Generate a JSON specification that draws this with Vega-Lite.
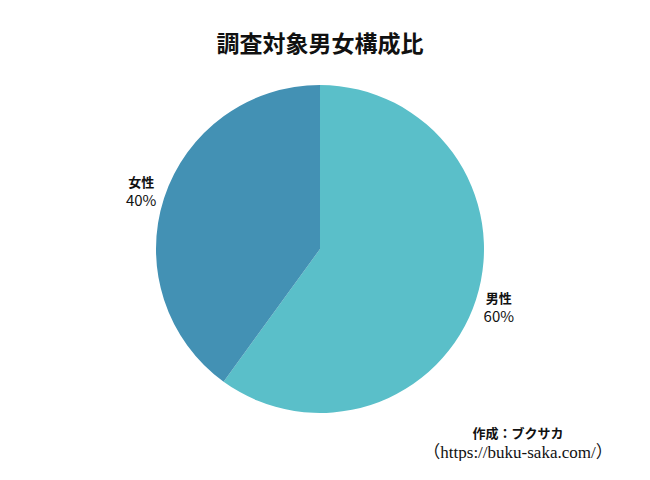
{
  "$schema": "https://vega.github.io/schema/vega-lite/v6.json",
  "background": "white",
  "padding": {"left": 0, "top": 34, "right": 10, "bottom": 0},
  "title": {"text": "調査対象男女構成比", "font": "Noto Sans CJK JP", "fontSize": 23, "fontWeight": "bold", "color": "#111111", "anchor": "middle", "offset": 22},
  "config": {"view": {"stroke": null}, "concat": {"spacing": 0}},
  "vconcat": [
    {
      "width": 640,
      "height": 340,
      "title": {
        "text": "作成：ブクサカ",
        "subtitle": "（https://buku-saka.com/）",
        "orient": "bottom",
        "anchor": "end",
        "align": "center",
        "dx": -122,
        "offset": 9,
        "font": "Noto Sans CJK JP",
        "fontSize": 13,
        "fontWeight": "bold",
        "color": "#111111",
        "subtitleFont": "Liberation Serif, Noto Sans CJK JP",
        "subtitleFontSize": 17,
        "subtitleColor": "#111111",
        "subtitlePadding": 4
      },
      "data": {"values": [
        {"性別": "男性", "割合": 0.6},
        {"性別": "女性", "割合": 0.4}
      ]},
      "encoding": {
        "theta": {"field": "割合", "type": "quantitative", "stack": true},
        "order": {"field": "割合", "type": "quantitative", "sort": "descending"}
      },
      "layer": [
        {
          "mark": {"type": "arc", "outerRadius": 164},
          "encoding": {
            "color": {"field": "性別", "type": "nominal", "legend": null,
              "scale": {"domain": ["男性", "女性"], "range": ["#5ABFC9", "#4391B4"]}}
          }
        },
        {
          "mark": {"type": "text", "radius": 188, "dy": -8, "font": "Noto Sans CJK JP", "fontSize": 13, "fontWeight": "bold", "color": "#111111"},
          "encoding": {"text": {"field": "性別", "type": "nominal"}}
        },
        {
          "mark": {"type": "text", "radius": 188, "dy": 10, "font": "Noto Sans CJK JP", "fontSize": 15, "color": "#111111"},
          "encoding": {"text": {"field": "割合", "type": "quantitative", "format": ".0%"}}
        }
      ]
    }
  ]
}
